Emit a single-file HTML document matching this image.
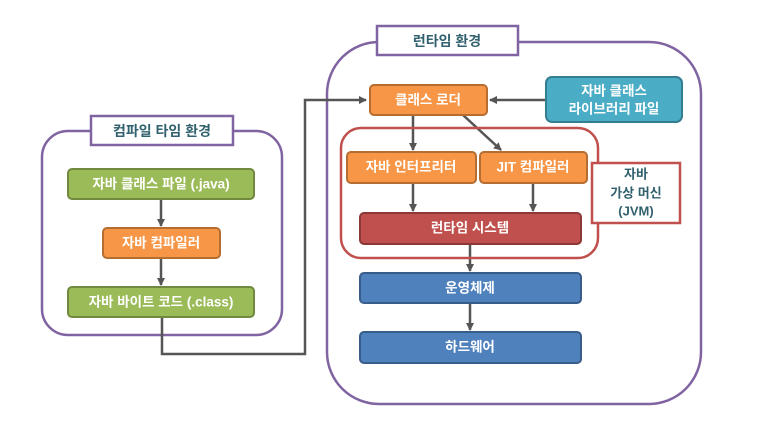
<!DOCTYPE html>
<html><head><meta charset="utf-8"><style>
body{margin:0;background:#fff}
svg text{font-family:"Liberation Sans","Noto Sans CJK KR",sans-serif;font-weight:bold;text-anchor:middle;dominant-baseline:central}
</style></head><body>
<svg width="762" height="437" viewBox="0 0 762 437" xmlns="http://www.w3.org/2000/svg">
<defs>
<marker id="a" markerWidth="8" markerHeight="8" refX="7" refY="4" orient="auto" markerUnits="userSpaceOnUse"><path d="M0,0 L8,4 L0,8 z" fill="#555"/></marker>
</defs>
<!-- left env -->
<rect x="42" y="131" width="240" height="204" rx="26" fill="none" stroke="#8064a2" stroke-width="2.5"/>
<rect x="91" y="116" width="142" height="29" fill="#fff" stroke="#8064a2" stroke-width="2.5"/>
<text x="162" y="131" fill="#31616e" font-size="14">컴파일 타임 환경</text>
<!-- right env -->
<rect x="327" y="42" width="374" height="362" rx="52" fill="none" stroke="#8064a2" stroke-width="2.5"/>
<rect x="377" y="26" width="141" height="29" fill="#fff" stroke="#8064a2" stroke-width="2.5"/>
<text x="447" y="41" fill="#31616e" font-size="14">런타임 환경</text>
<!-- connectors -->
<path d="M162,317 V354 H305 V100 H366" fill="none" stroke="#555" stroke-width="2.5" marker-end="url(#a)"/>
<line x1="161" y1="199" x2="161" y2="226" stroke="#555" stroke-width="2.5" marker-end="url(#a)"/>
<line x1="161" y1="258" x2="161" y2="285" stroke="#555" stroke-width="2.5" marker-end="url(#a)"/>
<line x1="546" y1="100" x2="490" y2="100" stroke="#555" stroke-width="2.5" marker-end="url(#a)"/>
<line x1="413" y1="115" x2="413" y2="150" stroke="#555" stroke-width="2.5" marker-end="url(#a)"/>
<line x1="463" y1="115" x2="501" y2="150" stroke="#555" stroke-width="2.5" marker-end="url(#a)"/>
<line x1="413" y1="183" x2="413" y2="211" stroke="#555" stroke-width="2.5" marker-end="url(#a)"/>
<line x1="533" y1="183" x2="533" y2="211" stroke="#555" stroke-width="2.5" marker-end="url(#a)"/>
<line x1="470" y1="244" x2="470" y2="271" stroke="#555" stroke-width="2.5" marker-end="url(#a)"/>
<line x1="470" y1="303" x2="470" y2="330" stroke="#555" stroke-width="2.5" marker-end="url(#a)"/>
<!-- JVM box -->
<rect x="341" y="128" width="257" height="130" rx="20" fill="none" stroke="#c0504d" stroke-width="2.5"/>
<rect x="592" y="163" width="88" height="60" fill="#fff" stroke="#c0504d" stroke-width="2.5"/>
<text x="636" y="174" fill="#31616e" font-size="13" font-weight="normal">자바</text>
<text x="636" y="193" fill="#31616e" font-size="13" font-weight="normal">가상 머신</text>
<text x="636" y="211" fill="#31616e" font-size="13" font-weight="normal">(JVM)</text>
<!-- left boxes -->
<rect x="68" y="169" width="186" height="30" rx="4" fill="#9bbb59" stroke="#71893f" stroke-width="2"/>
<text x="161" y="184" fill="#fff" font-size="13.5">자바 클래스 파일 (.java)</text>
<rect x="103" y="228" width="117" height="30" rx="4" fill="#f79646" stroke="#b66d31" stroke-width="2"/>
<text x="161" y="243" fill="#fff" font-size="13.5">자바 컴파일러</text>
<rect x="68" y="287" width="186" height="30" rx="4" fill="#9bbb59" stroke="#71893f" stroke-width="2"/>
<text x="161" y="302" fill="#fff" font-size="13.5">자바 바이트 코드 (.class)</text>
<!-- right boxes -->
<rect x="370" y="85" width="117" height="30" rx="4" fill="#f79646" stroke="#b66d31" stroke-width="2"/>
<text x="428" y="100" fill="#fff" font-size="13.5">클래스 로더</text>
<rect x="546" y="77" width="136" height="45" rx="6" fill="#4bacc6" stroke="#357d91" stroke-width="2"/>
<text x="614" y="91" fill="#fff" font-size="13.5" font-weight="normal">자바 클래스</text>
<text x="614" y="109" fill="#fff" font-size="13.5" font-weight="normal">라이브러리 파일</text>
<rect x="347" y="152" width="129" height="31" rx="4" fill="#f79646" stroke="#b66d31" stroke-width="2"/>
<text x="411" y="167" fill="#fff" font-size="13.5">자바 인터프리터</text>
<rect x="480" y="152" width="107" height="31" rx="4" fill="#f79646" stroke="#b66d31" stroke-width="2"/>
<text x="533" y="167" fill="#fff" font-size="13.5">JIT 컴파일러</text>
<rect x="360" y="213" width="221" height="31" rx="4" fill="#c0504d" stroke="#8c3836" stroke-width="2"/>
<text x="470" y="228" fill="#fff" font-size="13.5">런타임 시스템</text>
<rect x="360" y="273" width="221" height="30" rx="4" fill="#4f81bd" stroke="#385d8a" stroke-width="2"/>
<text x="470" y="288" fill="#fff" font-size="13.5">운영체제</text>
<rect x="360" y="332" width="221" height="31" rx="4" fill="#4f81bd" stroke="#385d8a" stroke-width="2"/>
<text x="470" y="347" fill="#fff" font-size="13.5">하드웨어</text>
</svg>
</body></html>
